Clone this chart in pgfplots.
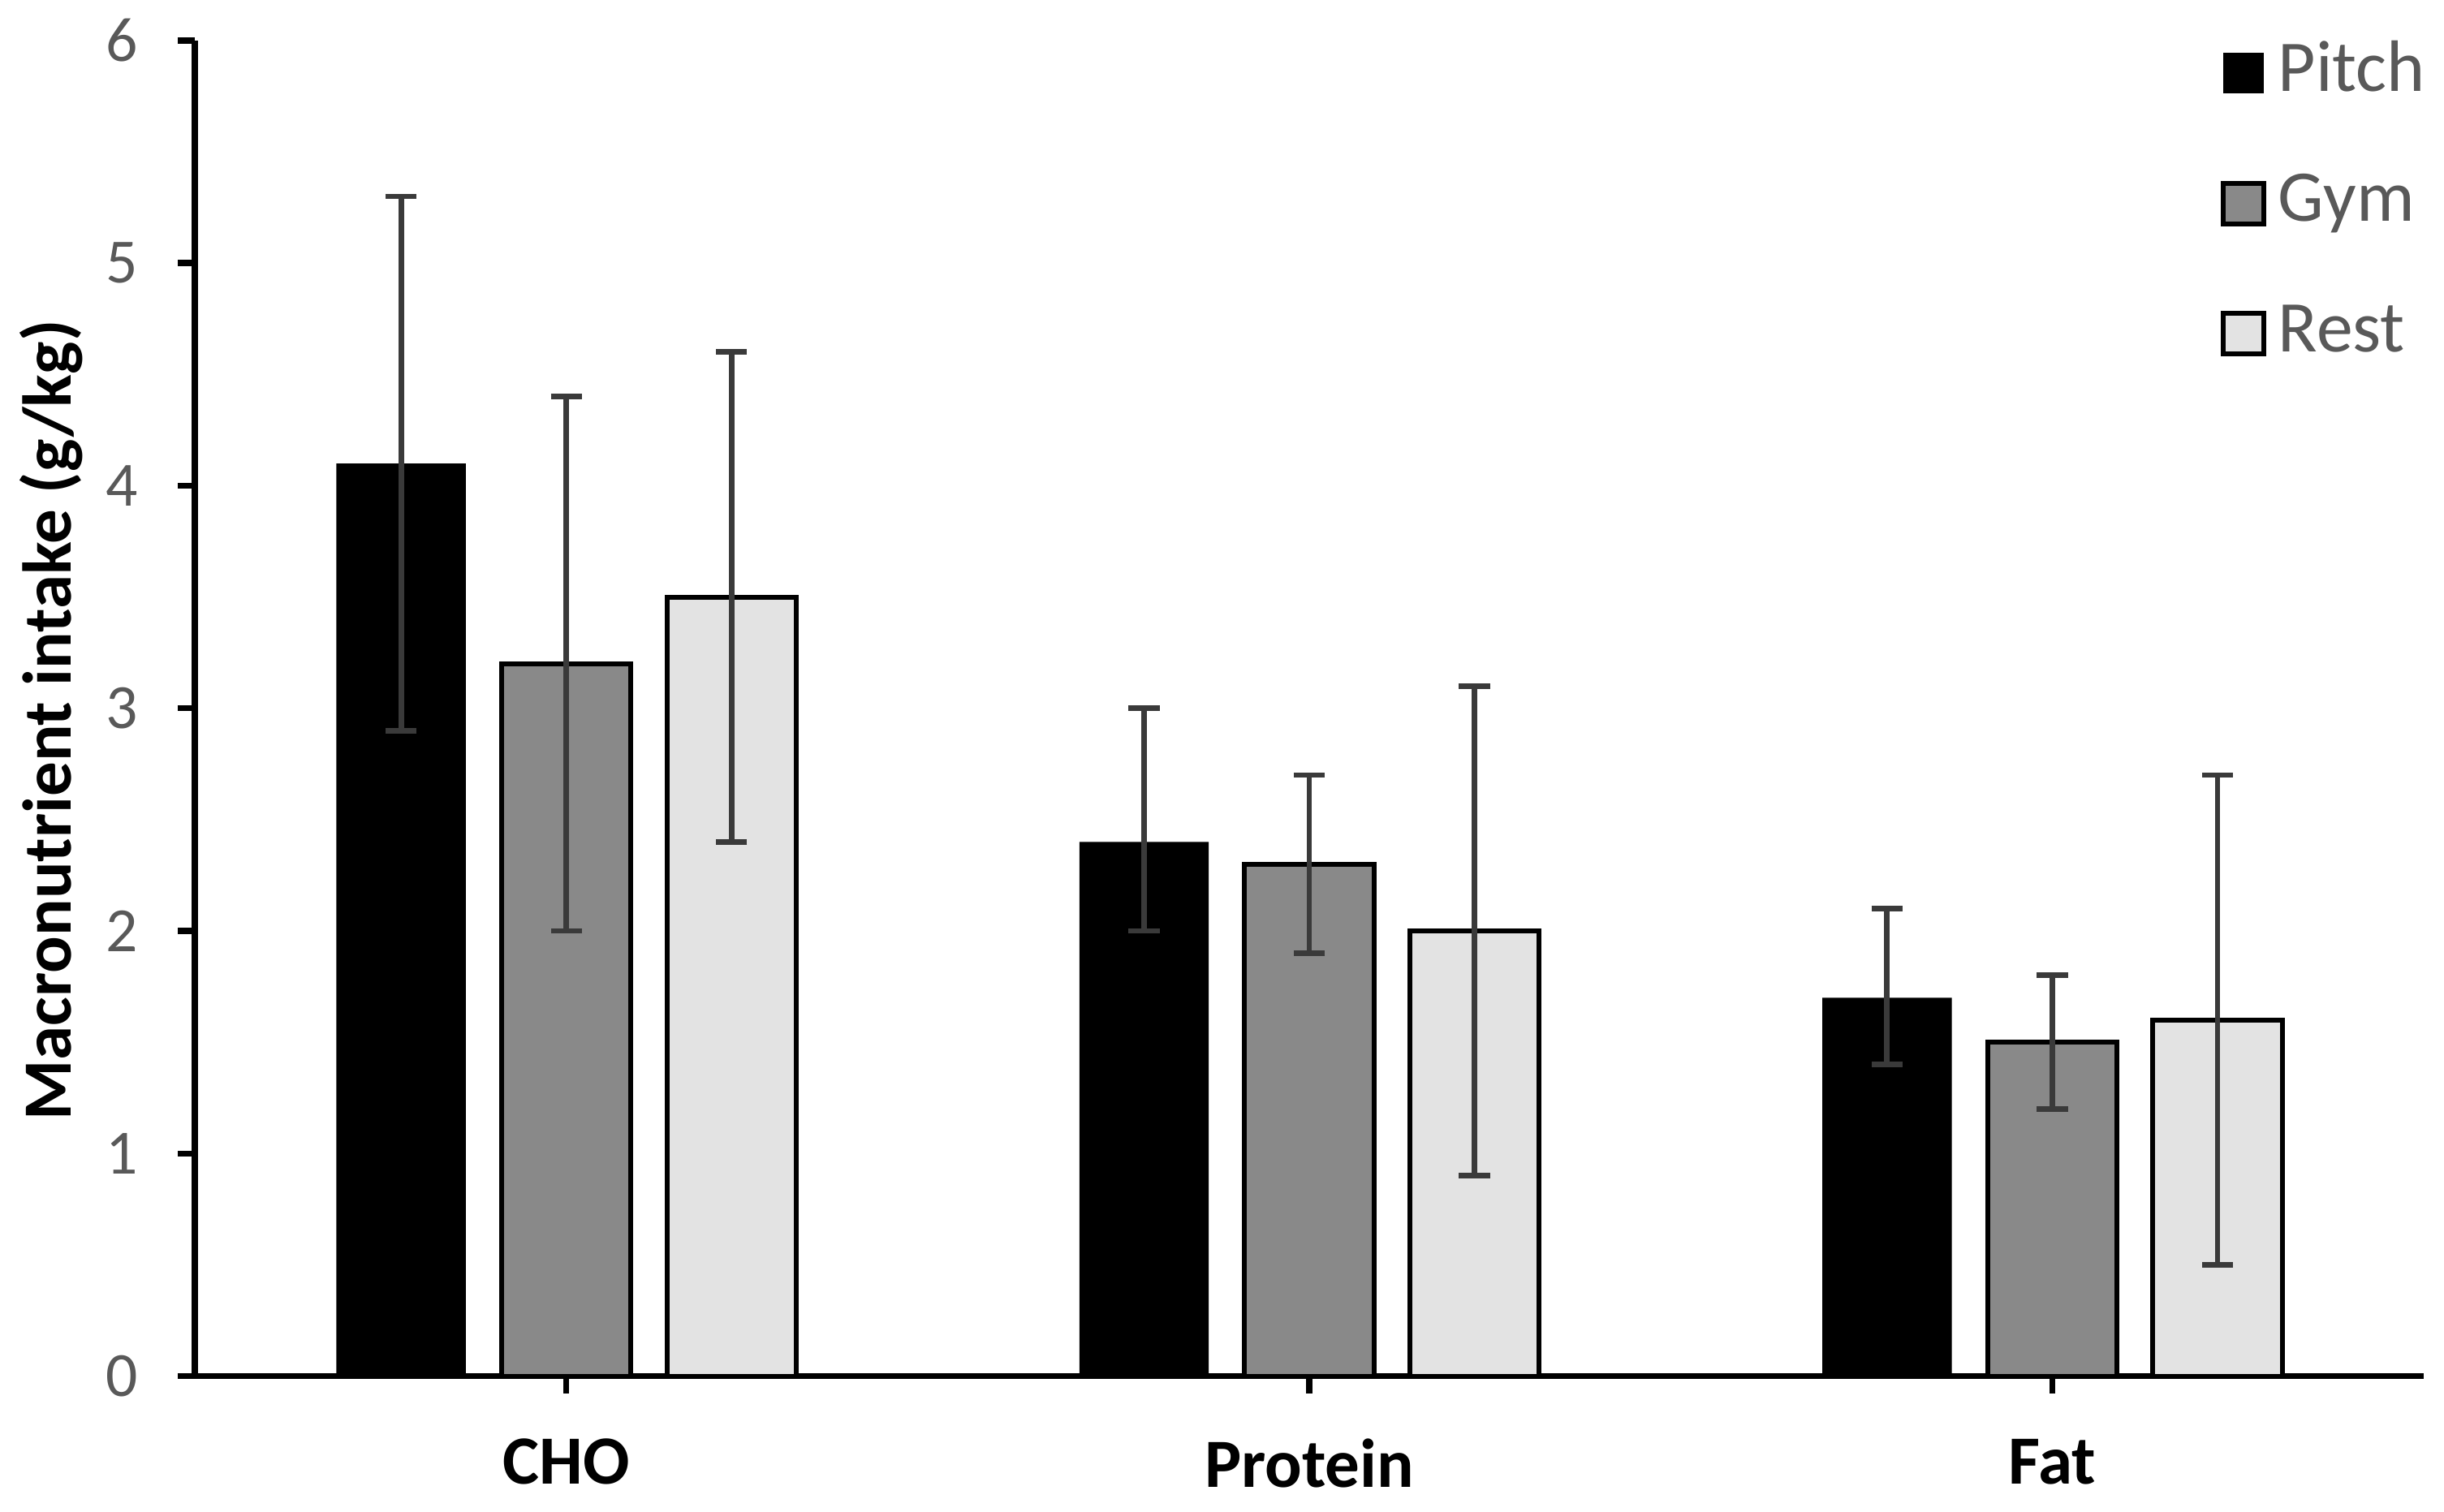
\documentclass[border=0pt]{standalone}
\usepackage{pgfplots}
\pgfplotsset{compat=1.18}
\usepackage{fontspec}
\setmainfont{Carlito}

\definecolor{tickgray}{HTML}{595959}
\definecolor{errgray}{HTML}{3A3A3A}
\definecolor{gymfill}{HTML}{898989}
\definecolor{restfill}{HTML}{E3E3E3}

% legend square
\pgfplotsset{
  sqlegend/.style={legend image code/.code={%
    \draw[##1,line width=0.9pt] (0mm,-1.3mm) rectangle (2.6mm,1.3mm);}},
}

\begin{document}
\begin{tikzpicture}
\begin{axis}[
    scale only axis,
    width=143mm, height=85.7mm,
    xmin=-0.5, xmax=2.5,
    ymin=0, ymax=6,
    ytick={0,1,2,3,4,5,6},
    xtick={0,1,2},
    xticklabels={CHO,Protein,Fat},
    axis x line*=bottom,
    axis y line*=left,
    axis line style={line width=1.1pt, black, -},
    tick align=outside,
    major tick length=1.1mm,
    tick style={line width=1.1pt, black},
    /pgf/number format/assume math mode=true,
    yticklabel style={font=\fontsize{11.5}{13}\selectfont, text=tickgray, xshift=-1.3mm},
    xticklabel style={font=\fontsize{12.6}{15}\selectfont\bfseries, text=black, yshift=-1.7mm},
    ylabel={Macronutrient intake (g/kg)},
    every axis y label/.style={at={(axis description cs:-0.0643,0.491)}, rotate=90, anchor=center},
    ylabel style={font=\fontsize{12.6}{15}\selectfont\bfseries},
    ybar, bar width=8.3mm,
    legend style={draw=none, fill=none, at={(rel axis cs:0.9083,1.006)}, anchor=north west,
        font=\fontsize{13.3}{16}\selectfont, text=tickgray,
        row sep=3.25mm, inner sep=0pt,
        nodes={inner sep=0.8mm, text height=2.9mm, text depth=0.6mm}},
    legend cell align=left,
    error bars/y dir=both,
    error bars/y explicit,
    error bars/error bar style={color=errgray, line width=1pt},
    error bars/error mark options={rotate=90, mark size=1mm, color=errgray, line width=1pt},
]

% Pitch
\addplot[fill=black, draw=none, bar shift=-10.6mm,
  legend image code/.code={\fill[black] (0mm,-1.3mm) rectangle (2.6mm,1.3mm);}]
  coordinates {
    (0,4.1) += (0,1.2) -= (0,1.2)
    (1,2.4) += (0,0.6) -= (0,0.4)
    (2,1.7) += (0,0.4) -= (0,0.3)
  };
\addlegendentry{Pitch}

% Gym
\addplot[fill=gymfill, draw=black, line width=0.9pt, bar shift=0mm, sqlegend]
  coordinates {
    (0,3.2) += (0,1.2) -= (0,1.2)
    (1,2.3) += (0,0.4) -= (0,0.4)
    (2,1.5) += (0,0.3) -= (0,0.3)
  };
\addlegendentry{Gym}

% Rest
\addplot[fill=restfill, draw=black, line width=0.9pt, bar shift=10.6mm, sqlegend]
  coordinates {
    (0,3.5) += (0,1.1) -= (0,1.1)
    (1,2.0) += (0,1.1) -= (0,1.1)
    (2,1.6) += (0,1.1) -= (0,1.1)
  };
\addlegendentry{Rest}

\end{axis}
\pgfresetboundingbox
\path ([xshift=-12.5mm,yshift=-8.7mm]current axis.south west) rectangle ([xshift=1.3mm,yshift=2.6mm]current axis.north east);
\end{tikzpicture}
\end{document}
